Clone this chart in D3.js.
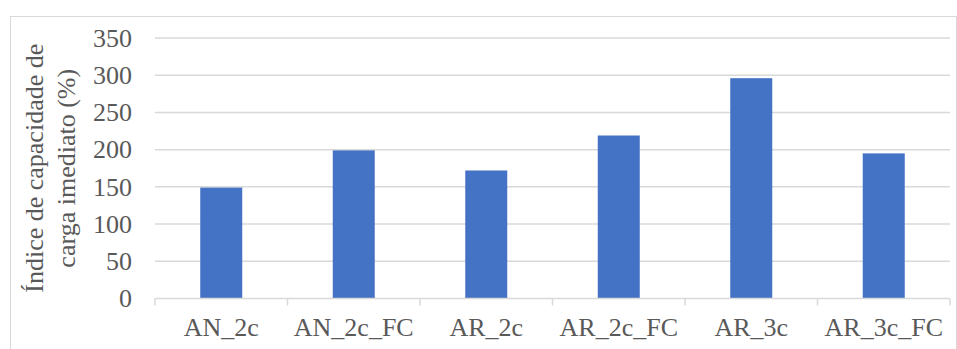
<!DOCTYPE html>
<html>
<head>
<meta charset="utf-8">
<script src="https://cdn.jsdelivr.net/npm/d3@7"></script>
<style>
  html, body { margin: 0; padding: 0; background: #fff; }
  svg { display: block; }
</style>
</head>
<body>
<svg id="chart" width="957" height="349"></svg>
<script>
// Ensaios e respetivo índice de capacidade de carga imediato (%)
const categories = ["AN_2c", "AN_2c_FC", "AR_2c", "AR_2c_FC", "AR_3c", "AR_3c_FC"];
const values = [149, 199, 172, 219, 296, 195];
const yTicks = [0, 50, 100, 150, 200, 250, 300, 350];
const yLabelLines = ["Índice de capacidade de", "carga imediato (%)"];

const svg = d3.select("#chart");
const W = 957, H = 349;
const margin = { left: 155, right: 7, top: 38, bottom: 50.5 };
const gridColor = "#d9d9d9";
const FONT = '"Liberation Serif"';
const FONT_SIZE = "26px";
const TEXT_COLOR = "#595959";

function styleText(sel) {
  sel.style("font-family", FONT)
     .style("font-size", FONT_SIZE)
     .style("fill", TEXT_COLOR);
}

// Chart area frame
svg.append("rect")
  .attr("x", 10.5).attr("y", 16.5)
  .attr("width", 946).attr("height", 340)
  .attr("fill", "#fff").attr("stroke", "#d9d9d9").attr("stroke-width", 1);

const x = d3.scaleBand()
  .domain(categories)
  .range([margin.left, W - margin.right])
  .paddingInner(0.683)
  .paddingOuter(0.3415);

const y = d3.scaleLinear()
  .domain([0, 350])
  .range([H - margin.bottom, margin.top]);

// Horizontal gridlines
svg.append("g")
  .selectAll("line")
  .data(yTicks.filter(d => d > 0))
  .join("line")
  .attr("x1", margin.left).attr("x2", W - margin.right)
  .attr("y1", d => y(d)).attr("y2", d => y(d))
  .attr("stroke", gridColor).attr("stroke-width", 1.5);

// Y axis tick labels
const yAxis = d3.axisLeft(y).tickValues(yTicks).tickSize(0).tickPadding(23);
const gy = svg.append("g")
  .attr("transform", `translate(${margin.left},0)`)
  .call(yAxis);
gy.select(".domain").remove();
gy.selectAll("text").call(styleText);

// Bars
svg.append("g")
  .selectAll("rect")
  .data(values)
  .join("rect")
  .attr("x", (d, i) => x(categories[i]))
  .attr("width", x.bandwidth())
  .attr("y", d => y(d))
  .attr("height", d => y(0) - y(d))
  .attr("fill", "#4472c4");

// Category axis with tick marks between categories
const xBoundary = d3.scaleBand().domain(categories).range([margin.left, W - margin.right]);
const gx = svg.append("g").attr("transform", `translate(0,${y(0)})`);
gx.append("line")
  .attr("x1", margin.left).attr("x2", W - margin.right)
  .attr("stroke", gridColor).attr("stroke-width", 1.5);
const bounds = categories.map(c => xBoundary(c)).concat([W - margin.right]);
gx.selectAll("line.tick")
  .data(bounds)
  .join("line")
  .attr("class", "tick")
  .attr("x1", d => d).attr("x2", d => d)
  .attr("y1", 0).attr("y2", 7)
  .attr("stroke", gridColor).attr("stroke-width", 1.5);
const xAxis = d3.axisBottom(x).tickSize(0).tickPadding(19);
const gxl = svg.append("g").attr("transform", `translate(0,${y(0)})`).call(xAxis);
gxl.select(".domain").remove();
gxl.selectAll("text").call(styleText);

// Y axis title, two rotated lines
const cy = (y(0) + y(350)) / 2;
const title = svg.append("text")
  .attr("transform", `translate(43,${cy}) rotate(-90)`)
  .attr("text-anchor", "middle")
  .call(styleText);
yLabelLines.forEach((t, i) => {
  title.append("tspan")
    .attr("x", 0)
    .attr("dy", i === 0 ? 0 : 32)
    .text(t);
});
</script>
</body>
</html>
